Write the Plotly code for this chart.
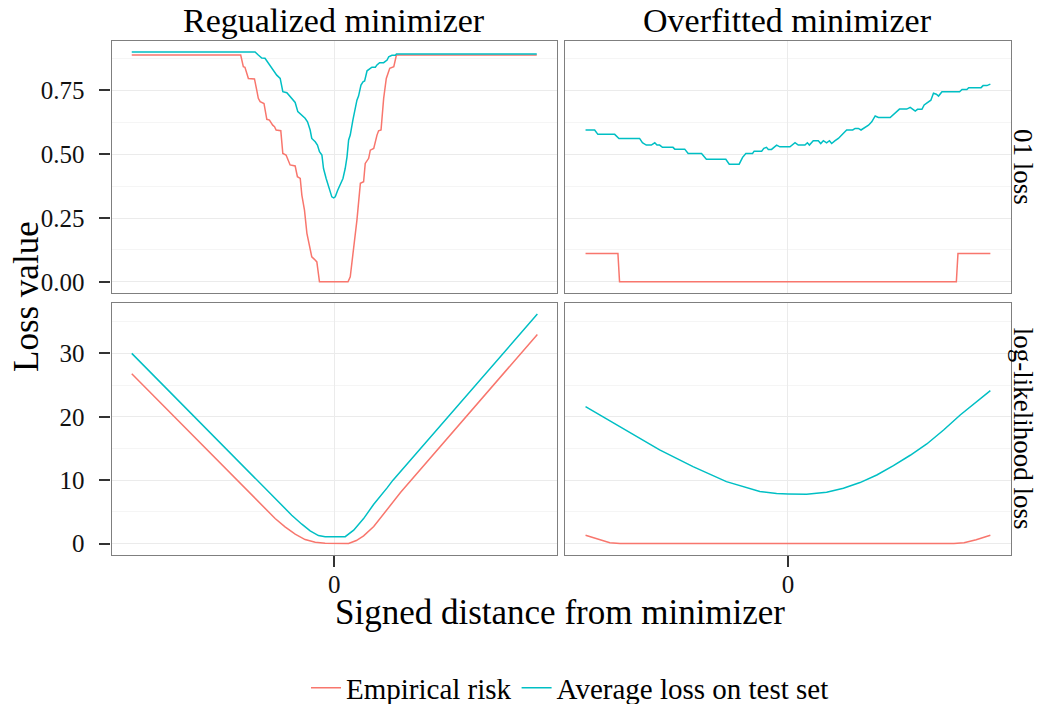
import plotly.graph_objects as go

# ---------------- data ----------------
series_names = ["Empirical risk", "Average loss on test set"]
row_labels = ["01 loss", "log-likelihood loss"]
col_labels = ["Regualized minimizer", "Overfitted minimizer"]
colors = ["#F8766D", "#00BFC4"]

# 01 loss, regularized minimizer
reg01_emp_x = [-1.0, -0.462, -0.449, -0.441, -0.424, -0.394, -0.383, -0.375, -0.366, -0.347,
               -0.333, -0.320, -0.304, -0.295, -0.287, -0.264, -0.254, -0.238, -0.218, -0.193,
               -0.182, -0.168, -0.160, -0.147, -0.135, -0.122, -0.111, -0.099, -0.086, -0.073,
               0.068, 0.079, 0.096, 0.112, 0.129, 0.145, 0.153, 0.170, 0.178, 0.195,
               0.211, 0.219, 0.231, 0.244, 0.257, 0.274, 0.294, 0.307, 1.0]
reg01_emp_y = [0.889, 0.889, 0.843, 0.841, 0.797, 0.795, 0.752, 0.719, 0.706, 0.699,
               0.637, 0.634, 0.614, 0.608, 0.595, 0.592, 0.503, 0.497, 0.458, 0.454,
               0.412, 0.405, 0.340, 0.281, 0.190, 0.137, 0.098, 0.089, 0.078, 0.0,
               0.0, 0.020, 0.124, 0.242, 0.386, 0.392, 0.464, 0.484, 0.516, 0.523,
               0.575, 0.592, 0.595, 0.719, 0.797, 0.837, 0.843, 0.889, 0.889]
reg01_test_x = [-1.0, -0.391, -0.375, -0.358, -0.342, -0.325, -0.309, -0.297, -0.284, -0.267,
                -0.254, -0.234, -0.218, -0.205, -0.193, -0.180, -0.160, -0.144, -0.132, -0.119,
                -0.111, -0.094, -0.083, -0.073, -0.061, -0.053, -0.040, -0.028, -0.020, -0.012,
                -0.003, 0.005, 0.017, 0.030, 0.043, 0.054, 0.063, 0.071, 0.079, 0.092,
                0.104, 0.112, 0.120, 0.132, 0.142, 0.150, 0.162, 0.175, 0.186, 0.203,
                0.211, 0.224, 0.244, 0.261, 0.269, 0.285, 0.302, 0.307, 1.0]
reg01_test_y = [0.901, 0.901, 0.889, 0.877, 0.876, 0.856, 0.837, 0.820, 0.810, 0.797,
                0.745, 0.741, 0.725, 0.712, 0.703, 0.667, 0.654, 0.641, 0.627, 0.595,
                0.562, 0.549, 0.536, 0.510, 0.497, 0.444, 0.405, 0.373, 0.353, 0.333,
                0.329, 0.333, 0.359, 0.386, 0.405, 0.444, 0.490, 0.556, 0.575, 0.634,
                0.680, 0.712, 0.728, 0.771, 0.784, 0.787, 0.827, 0.835, 0.841, 0.841,
                0.850, 0.859, 0.859, 0.869, 0.882, 0.888, 0.888, 0.893, 0.893]

# 01 loss, overfitted minimizer
ovf01_emp_x = [-1.0, -0.840, -0.832, 0.832, 0.840, 1.0]
ovf01_emp_y = [0.111, 0.111, 0.0, 0.0, 0.111, 0.111]
ovf01_test_x = [-1.0, -0.955, -0.939, -0.856, -0.835, -0.733, -0.719, -0.700, -0.675, -0.658,
                -0.647, -0.634, -0.620, -0.568, -0.559, -0.510, -0.493, -0.427, -0.403, -0.307,
                -0.290, -0.241, -0.224, -0.208, -0.175, -0.167, -0.130, -0.119, -0.106, -0.097,
                -0.081, -0.056, -0.040, 0.010, 0.035, 0.051, 0.084, 0.096, 0.106, 0.125,
                0.150, 0.162, 0.175, 0.191, 0.205, 0.216, 0.233, 0.249, 0.290, 0.320,
                0.332, 0.348, 0.361, 0.381, 0.398, 0.414, 0.431, 0.447, 0.505, 0.551,
                0.587, 0.604, 0.629, 0.640, 0.662, 0.673, 0.686, 0.706, 0.719, 0.733,
                0.744, 0.761, 0.848, 0.860, 0.884, 0.893, 0.954, 0.964, 0.983, 1.0]
ovf01_test_y = [0.595, 0.595, 0.578, 0.578, 0.562, 0.562, 0.545, 0.536, 0.536, 0.545,
                0.536, 0.536, 0.527, 0.527, 0.520, 0.520, 0.503, 0.503, 0.480, 0.480,
                0.461, 0.461, 0.488, 0.503, 0.503, 0.512, 0.512, 0.523, 0.527, 0.519,
                0.519, 0.536, 0.529, 0.529, 0.545, 0.536, 0.536, 0.545, 0.536, 0.553,
                0.553, 0.542, 0.553, 0.545, 0.553, 0.542, 0.553, 0.562, 0.595, 0.595,
                0.601, 0.601, 0.595, 0.605, 0.614, 0.627, 0.650, 0.644, 0.644, 0.677,
                0.677, 0.684, 0.669, 0.676, 0.676, 0.693, 0.702, 0.712, 0.739, 0.735,
                0.728, 0.745, 0.745, 0.754, 0.754, 0.761, 0.761, 0.769, 0.769, 0.775]

# log-likelihood loss, regularized minimizer
regll_emp_x = [-1.0, -0.482, -0.292, -0.243, -0.193, -0.144, -0.094, -0.045, 0.0, 0.071,
               0.109, 0.145, 0.195, 0.261, 0.327, 1.003]
regll_emp_y = [26.8, 10.0, 3.95, 2.63, 1.47, 0.63, 0.21, 0.05, 0.0, 0.0,
               0.47, 1.21, 2.68, 5.31, 8.04, 33.0]
regll_test_x = [-1.0, -0.383, -0.292, -0.21, -0.16, -0.119, -0.078, -0.045, 0.054, 0.096,
                0.145, 0.195, 0.261, 0.290, 1.003]
regll_test_y = [30.0, 10.0, 7.1, 4.47, 3.05, 2.0, 1.26, 1.08, 1.08, 2.10,
                3.94, 6.2, 8.78, 10.0, 36.2]

# log-likelihood loss, overfitted minimizer
ovfll_emp_x = [-1.0, -0.93, -0.88, -0.83, 0.82, 0.87, 0.93, 1.0]
ovfll_emp_y = [1.31, 0.6, 0.12, 0.0, 0.0, 0.12, 0.6, 1.31]
ovfll_test_x = [-1.0, -0.881, -0.799, -0.634, -0.469, -0.304, -0.139, -0.056, 0.0, 0.092,
                0.191, 0.274, 0.356, 0.439, 0.521, 0.604, 0.686, 0.769, 0.851, 0.934, 1.0]
ovfll_test_y = [21.6, 19.39, 17.92, 14.77, 12.14, 9.77, 8.20, 7.88, 7.83, 7.78,
                8.09, 8.72, 9.62, 10.82, 12.30, 13.93, 15.71, 17.92, 20.28, 22.39, 24.12]

y01_ticks = [0, 0.25, 0.5, 0.75]
y01_ticktext = ["0.00", "0.25", "0.50", "0.75"]
yll_ticks = [0, 10, 20, 30]
yll_ticktext = ["0", "10", "20", "30"]
x_ticks = [0]
x_ticktext = ["0"]

# ---------------- figure ----------------
FONT = "Liberation Serif"
OFF = 8                      # page body margin of the html page
W, H = 1042 - OFF, 704 - OFF


def px(v):
    return (v - OFF) / W


def py(v):
    return 1 - (v - OFF) / H


panels = [
    ("x", "y", reg01_emp_x, reg01_emp_y, reg01_test_x, reg01_test_y, True),
    ("x2", "y2", ovf01_emp_x, ovf01_emp_y, ovf01_test_x, ovf01_test_y, False),
    ("x3", "y3", regll_emp_x, regll_emp_y, regll_test_x, regll_test_y, False),
    ("x4", "y4", ovfll_emp_x, ovfll_emp_y, ovfll_test_x, ovfll_test_y, False),
]

fig = go.Figure()
for xa, ya, ex, ey, tx, ty, show in panels:
    fig.add_trace(go.Scatter(x=ex, y=ey, xaxis=xa, yaxis=ya, mode="lines",
                             line=dict(color=colors[0], width=1.5),
                             name=series_names[0], legendgroup="emp", showlegend=show))
    fig.add_trace(go.Scatter(x=tx, y=ty, xaxis=xa, yaxis=ya, mode="lines",
                             line=dict(color=colors[1], width=1.5),
                             name=series_names[1], legendgroup="test", showlegend=show))

xdom_l = [px(111.5), px(557)]
xdom_r = [px(565.3), px(1010.6)]
ydom_t = [py(293.3), py(40.7)]
ydom_b = [py(555), py(302.7)]

frame = dict(showline=True, mirror=True, linecolor="#7F7F7F", linewidth=1.2,
             zeroline=False, gridcolor="#EBEBEB", gridwidth=1, automargin=False)
tickfont = dict(family=FONT, size=25, color="#111111")


def xaxis(domain, anchor, labels):
    d = dict(frame, domain=domain, anchor=anchor, range=[-1.1, 1.1],
             tickmode="array", tickvals=x_ticks, ticktext=x_ticktext, showgrid=True,
             tickfont=tickfont)
    if labels:
        d.update(ticks="outside", ticklen=11, tickwidth=1.5, tickcolor="#333333",
                 showticklabels=True, ticklabelstandoff=-4)
    else:
        d.update(ticks="", showticklabels=False)
    return d


def yaxis(domain, anchor, rng, tv, tt, mdt, labels):
    d = dict(frame, domain=domain, anchor=anchor, range=rng,
             tickmode="array", tickvals=tv, ticktext=tt, showgrid=True,
             tickfont=tickfont,
             minor=dict(tick0=0, dtick=mdt, showgrid=True, gridcolor="#F5F5F5",
                        gridwidth=1, ticks=""))
    if labels:
        d.update(ticks="outside", ticklen=11, tickwidth=1.5, tickcolor="#333333",
                 showticklabels=True, ticklabelstandoff=10)
    else:
        d.update(ticks="", showticklabels=False)
    return d


r01 = [-0.045, 0.945]
rll = [-1.81, 38.0]

fig.update_layout(
    width=W, height=H, autosize=False,
    margin=dict(l=0, r=0, t=0, b=0, autoexpand=False),
    paper_bgcolor="white", plot_bgcolor="white",
    font=dict(family=FONT, color="black"),
    xaxis=xaxis(xdom_l, "y", False),
    xaxis2=xaxis(xdom_r, "y2", False),
    xaxis3=xaxis(xdom_l, "y3", True),
    xaxis4=xaxis(xdom_r, "y4", True),
    yaxis=yaxis(ydom_t, "x", r01, y01_ticks, y01_ticktext, 0.125, True),
    yaxis2=yaxis(ydom_t, "x2", r01, y01_ticks, y01_ticktext, 0.125, False),
    yaxis3=yaxis(ydom_b, "x3", rll, yll_ticks, yll_ticktext, 5, True),
    yaxis4=yaxis(ydom_b, "x4", rll, yll_ticks, yll_ticktext, 5, False),
    legend=dict(orientation="h", x=px(570), xanchor="center", y=py(688),
                yanchor="middle", font=dict(family=FONT, size=29, color="black"),
                bgcolor="rgba(0,0,0,0)", itemwidth=30, tracegroupgap=0),
    showlegend=True,
)

ann = [
    dict(text=col_labels[0], x=(xdom_l[0] + xdom_l[1]) / 2, y=py(21), size=34, angle=0),
    dict(text=col_labels[1], x=(xdom_r[0] + xdom_r[1]) / 2, y=py(21), size=34, angle=0),
    dict(text=row_labels[0], x=px(1023), y=(ydom_t[0] + ydom_t[1]) / 2, size=27, angle=90),
    dict(text=row_labels[1], x=px(1023), y=(ydom_b[0] + ydom_b[1]) / 2, size=27, angle=90),
    dict(text="Loss value", x=px(26), y=py(297), size=35, angle=-90),
    dict(text="Signed distance from minimizer", x=px(560), y=py(612), size=35, angle=0),
]
for a in ann:
    fig.add_annotation(text=a["text"], x=a["x"], y=a["y"], xref="paper", yref="paper",
                       xanchor="center", yanchor="middle", showarrow=False,
                       textangle=a["angle"],
                       font=dict(family=FONT, size=a["size"], color="black"))

fig.write_html("out.html")
